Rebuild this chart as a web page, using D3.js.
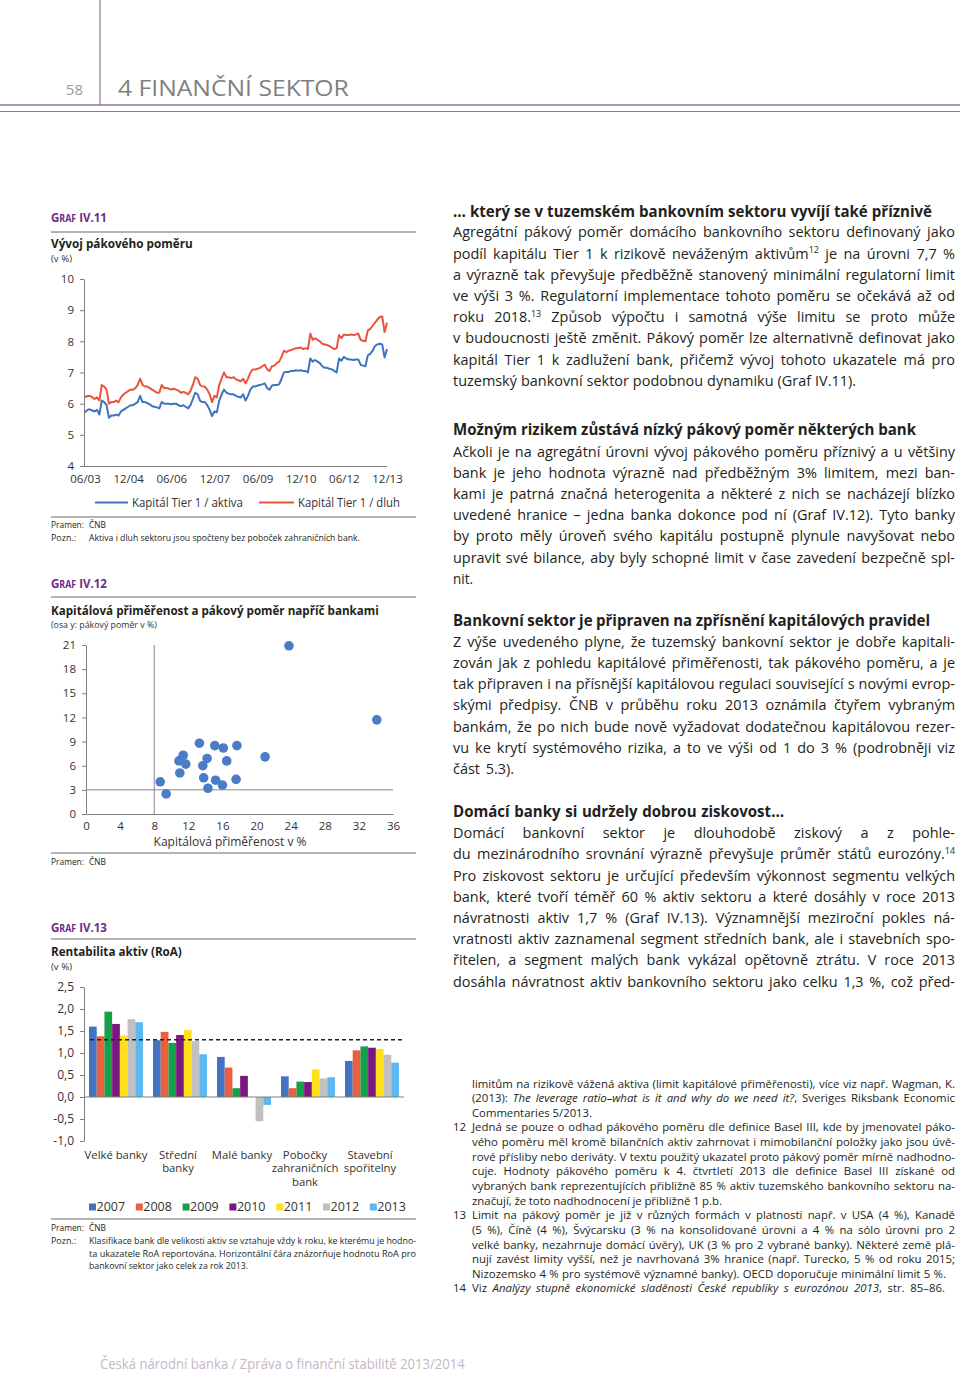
<!DOCTYPE html>
<html><head><meta charset="utf-8">
<script src="https://cdn.jsdelivr.net/npm/d3@7"></script>
<style>
html,body{margin:0;padding:0;background:#fff;}
svg{display:block;font-family:"Open Sans",sans-serif;}
</style></head><body>
<svg id="page" width="960" height="1376"></svg>
<script>
// ---------------- DATA ----------------
// Graf IV.11 – monthly, 06/2003 .. 12/2013
const lineTickLabels = ["06/03","12/04","06/06","12/07","06/09","12/10","06/12","12/13"];
const tier1Debt = [
 6.2,6.25,6.25,6.2,6.15,6.2,6.1,6.6,6.55,6.45,
 6.0,6.05,6.05,6.1,6.05,6.2,6.3,6.35,6.4,6.45,
 6.45,6.5,6.6,6.8,6.6,6.55,6.55,6.5,6.45,6.4,
 6.35,6.35,6.6,6.5,6.5,6.48,6.45,6.48,6.45,6.42,
 6.35,6.38,6.35,6.3,6.4,6.6,6.85,6.8,6.6,6.55,
 6.55,6.45,6.3,6.05,6.25,6.2,6.6,6.8,7.0,6.85,
 6.85,6.82,6.85,6.78,6.75,6.72,6.8,6.65,6.8,7.0,
 7.1,7.1,7.12,7.15,7.2,7.25,7.1,7.05,7.2,7.22,
 7.3,7.35,7.5,7.7,7.65,7.7,7.72,7.75,7.78,7.78,
 7.8,7.75,7.78,7.75,8.25,8.05,8.1,8.05,8.0,7.92,
 7.9,7.88,7.85,7.8,7.75,7.78,8.2,8.1,8.22,8.2,
 8.2,8.22,8.2,8.22,8.25,8.05,8.02,8.0,8.35,8.4,
 8.5,8.6,8.7,8.78,8.8,8.3,8.6];
const tier1Assets = [
 5.72,5.8,5.82,5.78,5.75,5.8,5.65,6.1,6.05,5.95,
 5.55,5.62,5.62,5.65,5.62,5.75,5.8,5.85,5.9,5.95,
 5.95,6.0,6.05,6.25,6.05,6.05,6.02,5.98,5.92,5.9,
 5.88,5.85,6.05,6.0,6.0,6.0,5.98,6.0,6.0,5.95,
 5.92,5.95,5.9,5.85,5.95,6.15,6.35,6.3,6.1,6.05,
 6.05,5.95,5.8,5.6,5.75,5.72,6.1,6.3,6.45,6.35,
 6.32,6.3,6.3,6.25,6.22,6.2,6.3,6.1,6.25,6.45,
 6.55,6.55,6.58,6.6,6.62,6.65,6.5,6.45,6.58,6.6,
 6.6,6.62,6.8,7.0,7.02,7.02,7.05,7.05,7.07,7.06,
 7.07,7.05,7.05,7.0,7.45,7.35,7.4,7.35,7.3,7.2,
 7.15,7.15,7.12,7.1,7.05,7.0,7.45,7.38,7.5,7.45,
 7.42,7.42,7.4,7.42,7.42,7.25,7.22,7.2,7.55,7.6,
 7.7,7.85,7.9,7.92,7.9,7.48,7.75];
const lineSeriesNames = ["Kapitál Tier 1 / aktiva","Kapitál Tier 1 / dluh"];

// Graf IV.12 – banks
const bankCAR = [23.8,34.1,13.3,15.1,16.1,17.7,21.0,11.4,10.9,11.7,14.2,13.7,16.5,11.0,13.8,15.2,17.6,8.7,14.3,16.0,9.4];
const bankLeverage = [20.9,11.7,8.8,8.5,8.2,8.5,7.1,7.3,6.6,6.2,6.9,6.0,6.6,5.1,4.5,4.2,4.3,4.0,3.2,3.6,2.5];
const scatterXTicks = [0,4,8,12,16,20,24,28,32,36];
const scatterYTicks = [0,3,6,9,12,15,18,21];
const carLimit = 8, leverageLimit = 3;

// Graf IV.13 – RoA
const roaCategories = [["Velké banky"],["Střední","banky"],["Malé banky"],["Pobočky","zahraničních","bank"],["Stavební","spořitelny"]];
const roaYears = ["2007","2008","2009","2010","2011","2012","2013"];
const roa2007 = [1.60,1.29,0.91,0.47,0.82];
const roa2008 = [1.38,1.48,0.67,0.20,1.06];
const roa2009 = [1.94,1.23,0.20,0.35,1.15];
const roa2010 = [1.66,1.41,0.48,0.34,1.12];
const roa2011 = [1.40,1.52,0.00,0.63,1.09];
const roa2012 = [1.77,1.27,-0.55,0.42,0.96];
const roa2013 = [1.70,0.97,-0.18,0.45,0.78];
const roaSector2013 = 1.3;
const roaYTicks = [-1,-0.5,0,0.5,1,1.5,2,2.5];

// ---------------- HELPERS ----------------
const svg = d3.select("#page");
svg.append("rect").attr("width",960).attr("height",1376).attr("fill","#fff");
const TXT = "#231f20";

function fitText(parent, x, y, txt, size, target, attrs){
  const g = parent.append("g").attr("transform",`translate(${x},${y})`);
  const t = g.append("text").attr("x",0).attr("y",0).attr("font-size",size);
  if (attrs) Object.entries(attrs).forEach(([k,v])=>t.attr(k,v));
  if (typeof txt === "function") txt(t); else t.text(txt);
  if (target){
    const w = t.node().getComputedTextLength();
    g.attr("transform",`translate(${x},${y}) scale(${target/w},1)`);
  }
  return t;
}
function rich(parent, x, y, parts, size, weight, color){
  const t = parent.append("text").attr("x",x).attr("y",y)
    .attr("font-size",size).attr("font-weight",weight||400).attr("fill",color||TXT);
  let pending = 0;
  parts.forEach(p=>{
    const sp = t.append("tspan");
    if (pending){ sp.attr("dy", pending); pending = 0; }
    if (typeof p === "string") sp.text(p);
    else if (p.sup){ const s = size*0.36; sp.attr("dy",-s).attr("font-size",size*0.62).text(p.sup); pending = s; }
    else if (p.it){ sp.attr("font-style","italic").text(p.it); }
  });
  return t;
}
function measure(parts, size, weight){
  const t = rich(svg, 0, -200, parts, size, weight);
  const w = t.node().getComputedTextLength();
  t.remove();
  return w;
}
function justify(t, target){
  const node = t.node();
  const w = node.getComputedTextLength();
  const spaces = (node.textContent.match(/ /g)||[]).length;
  if (spaces>0){
    const ws = (target-w)/spaces;
    if (ws >= -0.8){ t.attr("word-spacing", ws); return; }
  }
  t.attr("textLength", target).attr("lengthAdjust","spacingAndGlyphs");
}
function splitLine(ln){
  if (typeof ln[ln.length-1] === "number") return {parts: ln.slice(0,-1), target: ln[ln.length-1], last:true};
  return {parts: ln, target: null, last:false};
}

// ---------------- PAGE HEADER / FOOTER ----------------
const PURP_LINE = "#8d7598";
svg.append("line").attr("x1",100).attr("x2",100).attr("y1",0).attr("y2",105).attr("stroke",PURP_LINE).attr("stroke-width",1.2);
svg.append("line").attr("x1",0).attr("x2",960).attr("y1",105).attr("y2",105).attr("stroke",PURP_LINE).attr("stroke-width",1.5);
svg.append("line").attr("x1",0).attr("x2",960).attr("y1",111.5).attr("y2",111.5).attr("stroke",PURP_LINE).attr("stroke-width",1);
svg.append("text").attr("x",83).attr("y",95).attr("text-anchor","end").attr("font-size",15).attr("fill","#9a9a9a").text("58");
fitText(svg,118,96,"4 FINANČNÍ SEKTOR",22,231,{fill:"#808080"});
fitText(svg,100,1369,"Česká národní banka / Zpráva o finanční stabilitě 2013/2014",14.5,365,{fill:"#c6b7c9"});

// ---------------- LEFT COLUMN: common pieces ----------------
const PURPLE = "#6d2c86";
function grafLabel(y, num){
  fitText(svg,51,y,t=>{
    t.attr("fill",PURPLE).attr("font-weight",700);
    t.append("tspan").attr("font-size",13).text("G");
    t.append("tspan").attr("font-size",10).text("RAF");
    t.append("tspan").attr("font-size",13).text(" IV."+num);
  },13,56);
}
function sep(y){ svg.append("line").attr("x1",51).attr("x2",416).attr("y1",y).attr("y2",y).attr("stroke","#9b9b9b").attr("stroke-width",1.3); }
function title(y, txt, w){ fitText(svg,51,y,txt,13,w,{"font-weight":700,fill:TXT}); }
function subtitle(y, txt, w){ fitText(svg,51,y,txt,9.3,w,{fill:"#333"}); }
function note(x, y, txt, w){ return fitText(svg,x,y,txt,9.2,w,{fill:TXT}); }
function styleAxis(g, fs){
  g.selectAll("path.domain").attr("stroke","#7f7f7f");
  g.selectAll(".tick line").attr("stroke","#7f7f7f");
  g.selectAll(".tick text").attr("fill","#333").attr("font-size",fs||11.5).attr("font-family","Open Sans, sans-serif");
}

// ---------------- GRAF IV.11 ----------------
grafLabel(222,"11"); sep(232);
title(248,"Vývoj pákového poměru",142);
subtitle(261.5,"(v %)",21);
const x11 = d3.scaleLinear().domain([0, tier1Debt.length-1]).range([85,387]);
const y11 = d3.scaleLinear().domain([4,10]).range([466,279]);
const gy11 = svg.append("g").attr("transform","translate(84,0)")
  .call(d3.axisLeft(y11).tickValues(d3.range(4,11)).tickFormat(d3.format("d")).tickSize(4).tickSizeOuter(0).tickPadding(6));
styleAxis(gy11);
const gx11 = svg.append("g").attr("transform","translate(0,466)")
  .call(d3.axisBottom(x11).tickValues(d3.range(0,127,18)).tickFormat((d,i)=>lineTickLabels[i]).tickSize(0).tickPadding(9));
styleAxis(gx11);
gx11.select("path.domain").attr("d","M84,0.5H387");
const line11 = d3.line().x((d,i)=>x11(i)).y(d=>y11(d));
const BLUE_L = "#3f73c1", RED_L = "#e9553a";
svg.append("path").datum(tier1Assets).attr("d",line11).attr("fill","none").attr("stroke",BLUE_L).attr("stroke-width",2).attr("stroke-linejoin","round");
svg.append("path").datum(tier1Debt).attr("d",line11).attr("fill","none").attr("stroke",RED_L).attr("stroke-width",2).attr("stroke-linejoin","round");
[[95,128,132,BLUE_L,111],[259,294,298,RED_L,102]].forEach((l,i)=>{
  svg.append("line").attr("x1",l[0]).attr("x2",l[1]).attr("y1",502.5).attr("y2",502.5).attr("stroke",l[3]).attr("stroke-width",2);
  fitText(svg,l[2],507,lineSeriesNames[i],12,l[4],{fill:"#333"});
});
sep(517);
note(51,528,"Pramen:",33); note(89,528,"ČNB",17);
note(51,540.5,"Pozn.:",25); note(89,540.5,"Aktiva i dluh sektoru jsou spočteny bez poboček zahraničních bank.",271);

// ---------------- GRAF IV.12 ----------------
grafLabel(588,"12"); sep(597);
title(615,"Kapitálová přiměřenost a pákový poměr napříč bankami",328);
subtitle(628,"(osa y: pákový poměr v %)",106);
const x12 = d3.scaleLinear().domain([0,36]).range([86,393]);
const y12 = d3.scaleLinear().domain([0,21]).range([814,645]);
const gy12 = svg.append("g").attr("transform","translate(86,0)")
  .call(d3.axisLeft(y12).tickValues(scatterYTicks).tickFormat(d3.format("d")).tickSize(4).tickSizeOuter(0).tickPadding(6));
styleAxis(gy12);
const gx12 = svg.append("g").attr("transform","translate(0,814)")
  .call(d3.axisBottom(x12).tickValues(scatterXTicks).tickFormat(d3.format("d")).tickSize(0).tickPadding(8));
styleAxis(gx12);
svg.append("line").attr("x1",x12(carLimit)).attr("x2",x12(carLimit)).attr("y1",y12(21)).attr("y2",y12(0)).attr("stroke","#8a8a8a").attr("stroke-width",1);
svg.append("line").attr("x1",x12(0)).attr("x2",x12(36)).attr("y1",y12(leverageLimit)).attr("y2",y12(leverageLimit)).attr("stroke","#8a8a8a").attr("stroke-width",1);
svg.append("text").attr("x",230).attr("y",846).attr("text-anchor","middle").attr("font-size",12).attr("fill","#333").text("Kapitálová přiměřenost v %");
svg.append("g").selectAll("circle").data(bankCAR.map((c,i)=>[c,bankLeverage[i]])).join("circle")
  .attr("cx",d=>x12(d[0])).attr("cy",d=>y12(d[1])).attr("r",4.8).attr("fill","#4a7cc8");
sep(853);
note(51,865,"Pramen:",33); note(89,865,"ČNB",17);

// ---------------- GRAF IV.13 ----------------
grafLabel(932,"13"); sep(939);
title(956,"Rentabilita aktiv (RoA)",131);
subtitle(969.5,"(v %)",21);
const y13 = d3.scaleLinear().domain([-1,2.5]).range([1141,987]);
const catKeys = roaCategories.map(c=>c.join(" "));
const x13 = d3.scaleBand().domain(catKeys).range([84,404]).paddingInner(0.156).paddingOuter(0.078);
const xYear = d3.scaleBand().domain(roaYears).range([0,x13.bandwidth()]);
const roaByYear = [roa2007,roa2008,roa2009,roa2010,roa2011,roa2012,roa2013];
const barColors = ["#4472c4","#ea603c","#14a048","#7b1580","#ffe01c","#c0c0c0","#5cb8ef"];
const gy13 = svg.append("g").attr("transform","translate(84,0)")
  .call(d3.axisLeft(y13).tickValues(roaYTicks).tickSize(4).tickSizeOuter(0).tickPadding(6)
    .tickFormat(d=>d.toFixed(1).replace(".",",")));
styleAxis(gy13, 12);
const barData = [];
roaByYear.forEach((arr,yi)=>arr.forEach((v,ci)=>barData.push({cat:catKeys[ci],year:roaYears[yi],v,yi})));
svg.append("g").selectAll("rect").data(barData).join("rect")
  .attr("x",d=>x13(d.cat)+xYear(d.year)).attr("width",xYear.bandwidth())
  .attr("y",d=>Math.min(y13(d.v),y13(0))).attr("height",d=>Math.abs(y13(d.v)-y13(0)))
  .attr("fill",d=>barColors[d.yi]);
svg.append("line").attr("x1",84).attr("x2",404).attr("y1",y13(0)).attr("y2",y13(0)).attr("stroke","#7f7f7f");
svg.append("line").attr("x1",90).attr("x2",404).attr("y1",y13(roaSector2013)).attr("y2",y13(roaSector2013))
  .attr("stroke","#222").attr("stroke-width",1.4).attr("stroke-dasharray","4,3");
const catShift = [0,-2,-2,-3,-2];
roaCategories.forEach((lines,ci)=>{
  lines.forEach((ln,li)=>{
    svg.append("text").attr("x",x13(catKeys[ci])+x13.bandwidth()/2+catShift[ci]).attr("y",1159+li*13.4)
      .attr("text-anchor","middle").attr("font-size",11.3).attr("fill","#333").text(ln);
  });
});
roaYears.forEach((yr,i)=>{
  const lx = 89 + i*46.8;
  svg.append("rect").attr("x",lx).attr("y",1203.5).attr("width",7).attr("height",7).attr("fill",barColors[i]);
  svg.append("text").attr("x",lx+7.5).attr("y",1211).attr("font-size",12.5).attr("fill","#333").text(yr);
});
sep(1219);
note(51,1231,"Pramen:",33); note(89,1231,"ČNB",17);
note(51,1244,"Pozn.:",25);
note(89,1244,"Klasifikace bank dle velikosti aktiv se vztahuje vždy k roku, ke kterému je hodno-",327);
note(89,1256.5,"ta ukazatele RoA reportována. Horizontální čára znázorňuje hodnotu RoA pro",327);
note(89,1269,"bankovní sektor jako celek za rok 2013.",159);

// ---------------- RIGHT COLUMN TEXT ----------------
const RX = 453, RW = 502, LH = 21.2;
const sections = [
  {hy:217, hw:479, head:"… který se v tuzemském bankovním sektoru vyvíjí také příznivě", by:237.3, lines:[
    ["Agregátní pákový poměr domácího bankovního sektoru definovaný jako"],
    ["podíl kapitálu Tier 1 k rizikově neváženým aktivům",{sup:"12"}," je na úrovni 7,7 %"],
    ["a výrazně tak převyšuje předběžně stanovený minimální regulatorní limit"],
    ["ve výši 3 %. Regulatorní implementace tohoto poměru se očekává až od"],
    ["roku 2018.",{sup:"13"}," Způsob výpočtu i samotná výše limitu se proto může"],
    ["v budoucnosti ještě změnit. Pákový poměr lze alternativně definovat jako"],
    ["kapitál Tier 1 k zadlužení bank, přičemž vývoj tohoto ukazatele má pro"],
    ["tuzemský bankovní sektor podobnou dynamiku (Graf IV.11).", 403]
  ]},
  {hy:435, hw:463, head:"Možným rizikem zůstává nízký pákový poměr některých bank", by:456.5, lines:[
    ["Ačkoli je na agregátní úrovni vývoj pákového poměru příznivý a u většiny"],
    ["bank je jeho hodnota výrazně nad předběžným 3% limitem, mezi ban-"],
    ["kami je patrná značná heterogenita a některé z nich se nacházejí blízko"],
    ["uvedené hranice – jedna banka dokonce pod ní (Graf IV.12). Tyto banky"],
    ["by proto měly úroveň svého kapitálu postupně plynule navyšovat nebo"],
    ["upravit své bilance, aby byly schopné limit v čase zavedení bezpečně spl-"],
    ["nit.", 20]
  ]},
  {hy:625.5, hw:477, head:"Bankovní sektor je připraven na zpřísnění kapitálových pravidel", by:646.7, lines:[
    ["Z výše uvedeného plyne, že tuzemský bankovní sektor je dobře kapitali-"],
    ["zován jak z pohledu kapitálové přiměřenosti, tak pákového poměru, a je"],
    ["tak připraven i na přísnější kapitálovou regulaci související s novými evrop-"],
    ["skými předpisy. ČNB v průběhu roku 2013 oznámila čtyřem vybraným"],
    ["bankám, že po nich bude nově vyžadovat dodatečnou kapitálovou rezer-"],
    ["vu ke krytí systémového rizika, a to ve výši od 1 do 3 % (podrobněji viz"],
    ["část 5.3).", 61]
  ]},
  {hy:817, hw:331, head:"Domácí banky si udržely dobrou ziskovost…", by:838.2, lines:[
    ["Domácí bankovní sektor je dlouhodobě ziskový a z pohle-"],
    ["du mezinárodního srovnání výrazně převyšuje průměr států eurozóny.",{sup:"14"}],
    ["Pro ziskovost sektoru je určující především výkonnost segmentu velkých"],
    ["bank, které tvoří téměř 60 % aktiv sektoru a které dosáhly v roce 2013"],
    ["návratnosti aktiv 1,7 % (Graf IV.13). Významnější meziroční pokles ná-"],
    ["vratnosti aktiv zaznamenal segment středních bank, ale i stavebních spo-"],
    ["řitelen, a segment malých bank vykázal opětovně ztrátu. V roce 2013"],
    ["dosáhla návratnost aktiv bankovního sektoru jako celku 1,3 %, což před-"]
  ]}
];
let ratios = [];
sections.forEach(s=>s.lines.forEach(ln=>{ const L = splitLine(ln); if(!L.last) ratios.push(RW/measure(L.parts,14,400)); }));
const FS = Math.max(13, Math.min(16.5, 14*d3.min(ratios)*0.995));
let hr = sections.map(s=>s.hw/measure([s.head],14,700));
const HFS = Math.max(13, Math.min(16.5, 14*d3.median(hr)));
sections.forEach(s=>{
  const h = rich(svg, RX, s.hy, [s.head], HFS, 700);
  justify(h, s.hw);
  s.lines.forEach((ln,i)=>{
    const L = splitLine(ln);
    const t = rich(svg, RX, s.by + i*LH, L.parts, FS, 400);
    justify(t, L.last ? L.target : RW);
  });
});

// ---------------- FOOTNOTES ----------------
const FX = 472, FW = 483, FLH = 14.64, FY0 = 1087.5;
const footLines = [
  [null, ["limitům na rizikově vážená aktiva (limit kapitálové přiměřenosti), více viz např. Wagman, K."]],
  [null, ["(2013): ",{it:"The leverage ratio–what is it and why do we need it?"},", Sveriges Riksbank Economic"]],
  [null, ["Commentaries 5/2013."], 120],
  ["12", ["Jedná se pouze o odhad pákového poměru dle definice Basel III, kde by jmenovatel páko-"]],
  [null, ["vého poměru měl kromě bilančních aktiv zahrnovat i mimobilanční položky jako jsou úvě-"]],
  [null, ["rové přísliby nebo deriváty. V textu použitý ukazatel proto pákový poměr mírně nadhodno-"]],
  [null, ["cuje. Hodnoty pákového poměru k 4. čtvrtletí 2013 dle definice Basel III získané od"]],
  [null, ["vybraných bank reprezentujících přibližně 85 % aktiv tuzemského bankovního sektoru na-"]],
  [null, ["značují, že toto nadhodnocení je přibližně 1 p.b."], 250],
  ["13", ["Limit na pákový poměr je již v různých formách v platnosti např. v USA (4 %), Kanadě"]],
  [null, ["(5 %), Číně (4 %), Švýcarsku (3 % na konsolidované úrovni a 4 % na sólo úrovni pro 2"]],
  [null, ["velké banky, nezahrnuje domácí úvěry), UK (3 % pro 2 vybrané banky). Některé země plá-"]],
  [null, ["nují zavést limity vyšší, než je navrhovaná 3% hranice (např. Turecko, 5 % od roku 2015;"]],
  [null, ["Nizozemsko 4 % pro systémově významné banky). OECD doporučuje minimální limit 5 %."], 474],
  ["14", ["Viz ",{it:"Analýzy stupně ekonomické sladěnosti České republiky s eurozónou 2013"},", str. 85–86."], 473]
];
let fr = footLines.filter(f=>!f[2]).map(f=>FW/measure(f[1],12,400));
const FFS = Math.max(10.5, Math.min(13, 12*d3.min(fr)*0.995));
footLines.forEach((fl,i)=>{
  const y = FY0 + i*FLH;
  if (fl[0]) svg.append("text").attr("x",453).attr("y",y).attr("font-size",FFS).attr("fill",TXT).text(fl[0]);
  const t = rich(svg, FX, y, fl[1], FFS, 400);
  justify(t, fl[2] || FW);
});
</script>
</body></html>
